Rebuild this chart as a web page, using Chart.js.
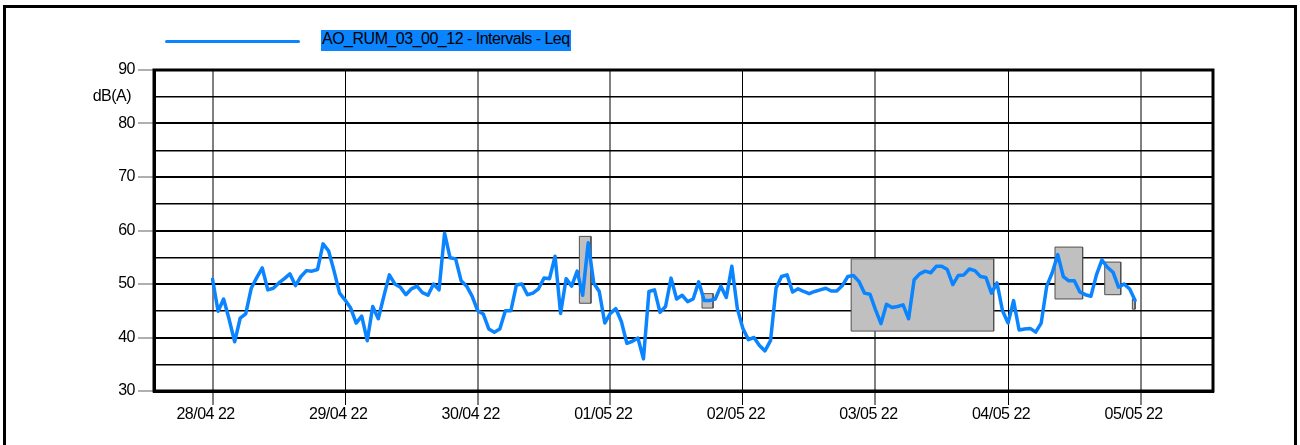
<!DOCTYPE html>
<html>
<head>
<meta charset="utf-8">
<script src="https://cdn.jsdelivr.net/npm/chart.js@4.4.0/dist/chart.umd.min.js"></script>
<style>
  html, body { margin: 0; padding: 0; background: #fff; overflow: hidden; }
  #wrap { position: relative; width: 1300px; height: 445px; }
  #frame { position: absolute; left: 3px; top: 5px; width: 1288px; height: 600px; border: 3px solid #000; }
  #chart { position: absolute; left: 0; top: 0; }
  #legLine { position: absolute; left: 165px; top: 40px; width: 135px; height: 3px; background: #0a84ff; border-radius: 2px; }
  #legText { position: absolute; left: 321px; top: 30px; height: 21px; line-height: 21px; background: #0a84ff; color: #000;
             font: 16px 'Liberation Sans', Arial, sans-serif; letter-spacing: -0.5px; padding: 0 1px; white-space: nowrap; }
</style>
</head>
<body>
<div id="wrap">
  <div id="frame"></div>
  <canvas id="chart" width="1300" height="445"></canvas>
  <div id="legLine"></div>
  <div id="legText">AO_RUM_03_00_12 - Intervals - Leq</div>
</div>
<script>
// hourly Leq from 28/04 00:00
const leq = [
  50.9, 44.9, 47.2, 43.4, 39.2, 43.6, 44.4, 49.2, 51.2, 53.0, 48.9, 49.2, 50.2, 51.0, 51.9, 49.7, 51.4, 52.5, 52.4, 52.7, 57.5, 56.2, 52.4, 48.3, 47.0, 45.5, 42.7, 44.0,
  39.4, 45.8, 43.5, 47.7, 51.7, 50.0, 49.4, 48.0, 49.1, 49.6, 48.4, 47.9, 50.0, 48.9, 59.5, 54.9, 54.7, 50.6, 49.6, 47.7, 45.0, 44.4, 41.6, 41.0, 41.6, 45.0, 45.0, 49.8,
  50.0, 48.0, 48.3, 49.1, 51.1, 51.0, 55.2, 44.5, 51.0, 49.6, 52.4, 47.9, 57.7, 50.2, 48.6, 42.7, 44.5, 45.4, 43.0, 38.9, 39.3, 39.9, 36.0, 48.6, 48.9, 44.7, 45.8, 51.1,
  47.2, 47.9, 46.7, 47.2, 50.4, 46.9, 46.9, 47.2, 49.6, 47.5, 53.3, 45.4, 41.7, 39.6, 40.0, 38.5, 37.5, 39.4, 49.2, 51.4, 51.7, 48.5, 49.1, 48.6, 48.2, 48.6, 48.9, 49.2,
  48.7, 48.7, 49.7, 51.4, 51.6, 50.5, 48.3, 48.1, 45.2, 42.6, 46.2, 45.6, 45.8, 46.1, 43.5, 50.8, 51.9, 52.4, 52.1, 53.3, 53.3, 52.7, 49.9, 51.6, 51.7, 52.8, 52.5, 51.4,
  51.2, 48.3, 50.2, 45.0, 42.7, 46.9, 41.4, 41.6, 41.7, 41.0, 42.7, 49.6, 52.1, 55.5, 51.4, 50.6, 50.6, 48.5, 48.0, 47.7, 51.7, 54.5, 53.1, 52.2, 49.4, 50.0, 49.1, 46.9
];

// grey interval boxes (hours from 28/04 00:00, dB range)
const boxStart = [66.4, 88.6, 115.6, 152.5, 161.5, 166.5];
const boxEnd   = [68.5, 90.6, 141.4, 157.5, 164.4, 167.0];
const boxHigh  = [58.9, 48.2, 54.7, 56.9, 54.1, 47.2];
const boxLow   = [46.4, 45.5, 41.2, 47.2, 48.0, 45.3];

const dayTicks  = [0, 24, 48, 72, 96, 120, 144, 168];
const dayLabels = ['28/04 22', '29/04 22', '30/04 22', '01/05 22', '02/05 22', '03/05 22', '04/05 22', '05/05 22'];
const dayGridDark = [false, true, false, false, true, false, true, false];

const FONT = { family: "'Liberation Sans', Arial, sans-serif", size: 16 };

const datasets = [{
  type: 'line',
  label: 'AO_RUM_03_00_12 - Intervals - Leq',
  data: leq.map((v, i) => ({ x: i, y: v })),
  borderColor: '#0a84ff',
  borderWidth: 3.5,
  borderJoinStyle: 'round',
  borderCapStyle: 'round',
  pointRadius: 0,
  tension: 0,
  fill: false,
  order: 0
}];

boxStart.forEach((s, i) => {
  datasets.push({
    type: 'line',
    label: 'box' + i,
    data: [
      { x: s, y: boxLow[i] }, { x: s, y: boxHigh[i] },
      { x: boxEnd[i], y: boxHigh[i] }, { x: boxEnd[i], y: boxLow[i] },
      { x: s, y: boxLow[i] }
    ],
    borderColor: '#505050',
    borderWidth: 1,
    backgroundColor: '#c0c0c0',
    fill: 'shape',
    pointRadius: 0,
    tension: 0,
    order: 1
  });
});

const tightText = {
  id: 'tightText',
  beforeUpdate(chart) { chart.ctx.letterSpacing = '-0.5px'; },
  beforeDraw(chart) { chart.ctx.letterSpacing = '-0.5px'; }
};

const plotFrame = {
  id: 'plotFrame',
  afterDraw(chart) {
    const a = chart.chartArea, ctx = chart.ctx;
    ctx.save();
    ctx.strokeStyle = '#000';
    ctx.lineWidth = 3;
    ctx.strokeRect(a.left, a.top, a.right - a.left, a.bottom - a.top);
    ctx.restore();
  }
};

new Chart(document.getElementById('chart'), {
  data: { datasets: datasets },
  options: {
    responsive: false,
    animation: false,
    layout: { padding: { top: 70, right: 87, left: 0, bottom: 0 } },
    plugins: { legend: { display: false }, tooltip: { enabled: false } },
    scales: {
      x: {
        type: 'linear',
        min: -10.6,
        max: 181.1,
        afterBuildTicks: function (scale) {
          scale.ticks = dayTicks.map(v => ({ value: v }));
        },
        afterFit: function (scale) { scale.height = 54; },
        border: { color: '#000', width: 3 },
        grid: {
          color: ctx => dayGridDark[ctx.index] ? '#000' : '#808080',
          lineWidth: ctx => dayGridDark[ctx.index] ? 1 : 2,
          tickLength: 14
        },
        ticks: {
          autoSkip: false,
          maxRotation: 0,
          padding: 0,
          labelOffset: -7,
          color: '#000',
          font: FONT,
          callback: function (v, i) { return dayLabels[i]; }
        }
      },
      y: {
        min: 30,
        max: 90,
        afterFit: function (scale) { scale.width = 154; },
        border: { color: '#000', width: 3 },
        grid: {
          color: '#000',
          lineWidth: ctx => (ctx.tick && ctx.tick.value % 10 === 0) ? 2 : 1.5,
          tickColor: ctx => (ctx.tick && ctx.tick.value % 10 === 0) ? '#606060' : 'rgba(0,0,0,0)',
          tickWidth: 1,
          tickLength: 16
        },
        ticks: {
          stepSize: 5,
          padding: 3,
          color: '#000',
          font: FONT,
          callback: function (v) {
            if (v === 85) return 'dB(A) ';
            return v % 10 === 0 ? v : '';
          }
        }
      }
    }
  },
  plugins: [tightText, plotFrame]
});
</script>
</body>
</html>
